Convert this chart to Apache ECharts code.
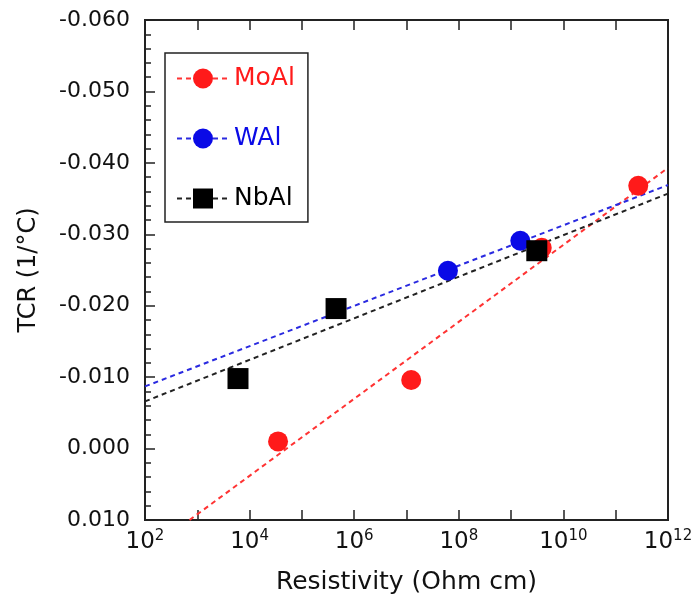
<!DOCTYPE html>
<html>
<head>
<meta charset="utf-8">
<script src="https://cdn.jsdelivr.net/npm/echarts@6/dist/echarts.min.js"></script>
<style>
html,body{margin:0;padding:0;background:#fff;}
#chart{width:696px;height:604px;}
</style>
</head>
<body>
<div id="chart"></div>
<script>
// ---- data (resistivity in Ohm cm, TCR in 1/°C) ----
const seriesNames = ['MoAl', 'WAl', 'NbAl'];
const moalRes = [3.5e4, 1.23e7, 3.85e9, 2.7e11];
const moalTcr = [-0.0010, -0.0096, -0.0281, -0.0368];
const walRes = [6.2e7, 1.5e9];
const walTcr = [-0.0249, -0.0291];
const nbalRes = [6.0e3, 4.5e5, 3.1e9];
const nbalTcr = [-0.0098, -0.0196, -0.0277];
// dashed fit lines (end points)
const moalFitRes = [7.1e2, 1e12];
const moalFitTcr = [0.0100, -0.0393];
const walFitRes = [1e2, 1e12];
const walFitTcr = [-0.0087, -0.0369];
const nbalFitRes = [1e2, 1e12];
const nbalFitTcr = [-0.0066, -0.0357];
// axis ticks
const xExponents = [2, 4, 6, 8, 10, 12];
const yTicks = [-0.060, -0.050, -0.040, -0.030, -0.020, -0.010, 0.000, 0.010];

const FONT = 'DejaVu Sans';
const colors = { MoAl: '#ff1a1a', WAl: '#0a0ae6', NbAl: '#000000' };
const lineColors = { MoAl: '#ff3333', WAl: '#2a2ae0', NbAl: '#222222' };

function pairs(xs, ys) { return xs.map((x, i) => [Math.log10(x), ys[i]]); }

const chart = echarts.init(document.getElementById('chart'), null, { renderer: 'canvas' });

const fitSeries = [
  ['MoAl', moalFitRes, moalFitTcr, 'circle'],
  ['WAl', walFitRes, walFitTcr, 'circle'],
  ['NbAl', nbalFitRes, nbalFitTcr, 'rect']
].map(([name, xs, ys, sym]) => ({
  name: name, type: 'line', data: pairs(xs, ys),
  symbol: sym, showSymbol: false, symbolSize: 20,
  itemStyle: { color: colors[name] },
  lineStyle: { color: lineColors[name], width: 2, type: [5, 4] },
  silent: true, animation: false, z: 2
}));

const pointSeries = [
  ['MoAl', moalRes, moalTcr, 'circle', 20],
  ['WAl', walRes, walTcr, 'circle', 20],
  ['NbAl', nbalRes, nbalTcr, 'rect', 21]
].map(([name, xs, ys, sym, sz]) => ({
  name: name, type: 'scatter', data: pairs(xs, ys),
  symbol: sym, symbolSize: sz,
  itemStyle: { color: colors[name], opacity: 1 },
  animation: false, z: 3
}));

const option = {
  backgroundColor: '#fff',
  animation: false,
  grid: { left: 145, right: 28, top: 20, bottom: 84, show: true, borderColor: '#222', borderWidth: 2, backgroundColor: 'transparent' },
  legend: {
    orient: 'vertical', left: 165, top: 53,
    padding: [13, 13, 11, 11],
    itemWidth: 52, itemHeight: 25, itemGap: 35,
    borderColor: '#222', borderWidth: 1.5,
    backgroundColor: '#fff',
    selectedMode: false,
    textStyle: { fontFamily: FONT, fontSize: 25 },
    data: seriesNames.map(n => ({ name: n, textStyle: { color: colors[n], fontFamily: FONT, fontSize: 25 } }))
  },
  xAxis: [{
    type: 'value', min: 2, max: 12, interval: 1, position: 'bottom',
    name: 'Resistivity (Ohm cm)', nameLocation: 'middle', nameGap: 50,
    nameTextStyle: { fontFamily: FONT, fontSize: 25, color: '#111' },
    axisLine: { show: true, onZero: false, lineStyle: { color: '#222', width: 2 } },
    axisTick: { show: true, inside: true, length: 10, lineStyle: { color: '#222', width: 1.5 } },
    splitLine: { show: false },
    axisLabel: {
      margin: 9,
      formatter: v => (xExponents.indexOf(Math.round(v)) >= 0 && Math.abs(v - Math.round(v)) < 1e-6) ? '{b|10}{s|' + Math.round(v) + '}' : '',
      rich: {
        b: { fontFamily: FONT, fontSize: 23, color: '#111', lineHeight: 26 },
        s: { fontFamily: FONT, fontSize: 15, color: '#111', verticalAlign: 'top', lineHeight: 15 }
      }
    }
  }, {
    type: 'value', min: 2, max: 12, interval: 1, position: 'top',
    axisLine: { show: true, onZero: false, lineStyle: { color: '#222', width: 2 } },
    axisTick: { show: true, inside: true, length: 10, lineStyle: { color: '#222', width: 1.5 } },
    axisLabel: { show: false },
    splitLine: { show: false }
  }],
  yAxis: [{
    type: 'value', min: -0.06, max: 0.01, interval: 0.01, inverse: true,
    name: 'TCR (1/°C)', nameLocation: 'middle', nameGap: 104,
    nameTextStyle: { fontFamily: FONT, fontSize: 24, color: '#111' },
    axisLine: { show: true, onZero: false, lineStyle: { color: '#222', width: 2 } },
    axisTick: { show: true, inside: true, length: 10, lineStyle: { color: '#222', width: 1.5 } },
    minorTick: { show: true, splitNumber: 5, length: 6, lineStyle: { color: '#222', width: 1.5 } },
    splitLine: { show: false },
    axisLabel: {
      margin: 15, fontFamily: FONT, fontSize: 22, color: '#111',
      formatter: v => {
        let best = yTicks.reduce((a, t) => Math.abs(t - v) < Math.abs(a - v) ? t : a, yTicks[0]);
        if (Math.abs(best) < 1e-9) return '0.000';
        return best.toFixed(3);
      }
    }
  }],
  series: fitSeries.concat(pointSeries)
};

chart.setOption(option);
</script>
</body>
</html>
